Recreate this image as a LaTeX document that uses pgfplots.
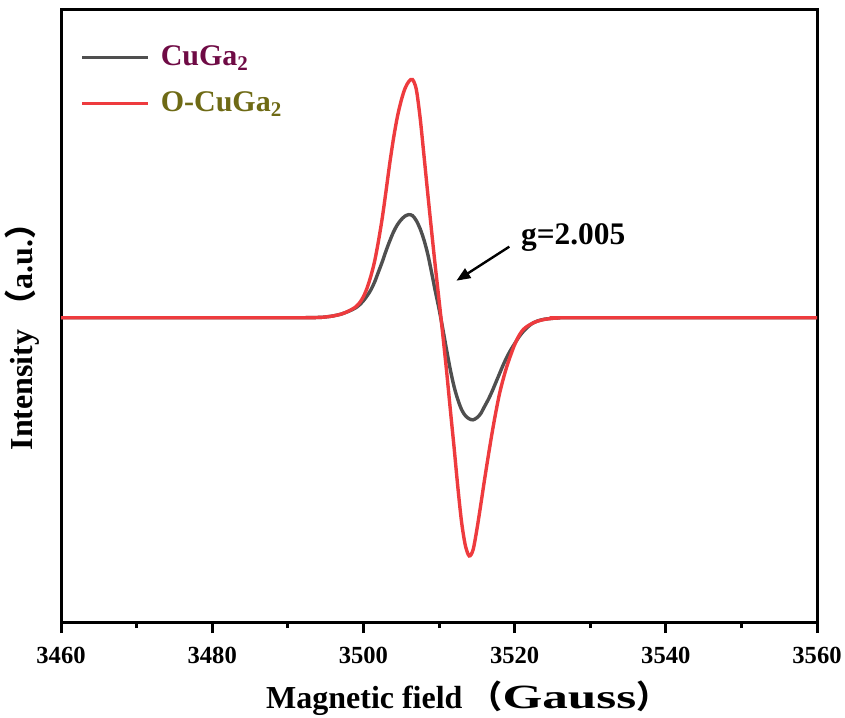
\documentclass[border=0pt]{standalone}
\usepackage{fontspec}
\setmainfont{Liberation Serif}
\newfontfamily\cjk{Noto Sans CJK SC}
\usepackage{graphicx}
\usepackage{pgfplots}
\pgfplotsset{compat=1.18}
\usetikzlibrary{arrows.meta}
\definecolor{cugray}{HTML}{4F4F4F}
\definecolor{ocured}{HTML}{EE3B3E}
\definecolor{legA}{HTML}{6F0B45}
\definecolor{legB}{HTML}{6E6A15}
\begin{document}
\begin{tikzpicture}
\begin{axis}[
    scale only axis,
    width=378pt, height=306.5pt,
    xmin=3460, xmax=3560,
    ymin=-305, ymax=307.5,
    axis line style={line width=1.5pt},
    xtick={3460,3480,...,3560},
    minor x tick num=1,
    ytick=\empty,
    xtick pos=bottom,
    tick align=outside,
    major tick length=5pt,
    minor tick length=2.5pt,
    tick style={line width=1.5pt, black},
    /pgf/number format/assume math mode=true,
    /pgf/number format/1000 sep={},
    xticklabel style={font=\fontsize{12.3}{14}\selectfont\bfseries, yshift=-3.5pt},
    xlabel={\bfseries Magnetic field {\cjk （}\scalebox{1.6}[1.06]{Gauss}{\cjk ）}},
    ylabel={\bfseries Intensity {\cjk （}a.u.{\cjk ）}},
    label style={font=\fontsize{16}{19}\selectfont},
    xlabel style={at={(axis description cs:0.262,0)}, anchor=base west, yshift=-42.5pt},
    ylabel style={at={(axis description cs:0,0.27)}, anchor=base west, yshift=14pt},
    legend style={draw=none, fill=none, at={(rel axis cs:0.0172,0.955)}, anchor=north west,
        font=\fontsize{15}{18}\selectfont\bfseries, row sep=7.5pt},
    legend cell align=left,
    legend image code/.code={\draw[#1] (0pt,0pt) -- (33pt,0pt); \path (36.5pt,0pt);},
]
% CuGa2
\addplot[color=cugray, line width=1.7pt, smooth] coordinates {
    (3460,0) (3490,0) (3494,0.3) (3495,0.8) (3496,1.8) (3497,3.5) (3497.5,4.8)
    (3498,6.3) (3498.5,8) (3499,10) (3499.5,13) (3500,17) (3500.5,22) (3501,28)
    (3501.5,36) (3502,46) (3502.5,56) (3503,67) (3503.5,77) (3504,86) (3504.5,93)
    (3505,98) (3505.5,101.5) (3506,103) (3506.5,102) (3507,97) (3507.5,89)
    (3508,78) (3508.5,64) (3509,46) (3509.5,27) (3510,9) (3510.5,-11) (3511,-32)
    (3511.5,-52) (3512,-69) (3512.5,-82) (3513,-92) (3513.5,-98) (3514,-101)
    (3514.5,-102) (3515,-100) (3515.5,-96) (3516,-89) (3516.5,-82) (3517,-74)
    (3517.5,-65) (3518,-56) (3518.5,-47) (3519,-39) (3519.5,-32) (3520,-26)
    (3520.5,-20) (3521,-15) (3521.5,-11) (3522,-7.5) (3522.5,-5) (3523,-3.3)
    (3523.5,-2.2) (3524,-1.4) (3525,-0.6) (3526,-0.2) (3527,0) (3560,0)
};
\addlegendentry{\textcolor{legA}{CuGa\textsubscript{2}}}
% O-CuGa2
\addplot[color=ocured, line width=1.7pt, smooth] coordinates {
    (3460,0) (3490,0) (3494,0.3) (3495,0.8) (3496,1.8) (3497,3.5) (3497.5,4.8)
    (3498,6.5) (3498.5,8.5) (3499,11) (3499.5,15) (3500,21) (3500.5,30) (3501,42)
    (3501.5,57) (3502,77) (3502.5,100) (3503,127) (3503.5,155) (3504,180)
    (3504.5,201) (3505,217) (3505.5,229) (3506,236) (3506.5,238) (3507,228)
    (3507.5,200) (3508,163) (3508.5,125) (3509,88) (3509.5,52) (3510,18)
    (3510.5,-17) (3511,-53) (3511.5,-92) (3512,-130) (3512.5,-170) (3513,-205)
    (3513.5,-228) (3514,-238) (3514.5,-232) (3515,-212) (3515.5,-188) (3516,-163)
    (3516.5,-139) (3517,-116) (3517.5,-95) (3518,-76) (3518.5,-61) (3519,-48)
    (3519.5,-37) (3520,-27) (3520.5,-19) (3521,-13) (3521.5,-9.5) (3522,-7)
    (3522.5,-5) (3523,-3.5) (3523.5,-2.4) (3524,-1.6) (3525,-0.6) (3526,-0.2)
    (3527,0) (3560,0)
};
\addlegendentry{\textcolor{legB}{O-CuGa\textsubscript{2}}}
\draw[line width=1.2pt, -{Triangle[length=7pt,width=5.5pt]}] (axis cs:3519.3,71) -- (axis cs:3512.3,37);
\node[anchor=base west, font=\fontsize{15.7}{18}\selectfont\bfseries, inner sep=0pt] at (axis cs:3520.8,73.5) {g=2.005};
\end{axis}
\pgfresetboundingbox
\path (-30.5pt,-47pt) rectangle (392pt,311.5pt);
\end{tikzpicture}
\end{document}
